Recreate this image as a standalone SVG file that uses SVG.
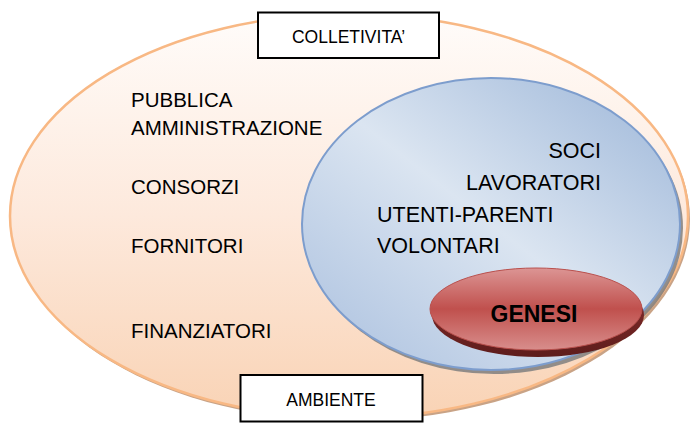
<svg xmlns="http://www.w3.org/2000/svg" width="696" height="425" viewBox="0 0 696 425">
<defs>
<linearGradient id="gOuter" x1="0" y1="0" x2="0" y2="1">
<stop offset="0" stop-color="#fffcfa"/>
<stop offset="0.5" stop-color="#fde9dc"/>
<stop offset="1" stop-color="#f9d3b5"/>
</linearGradient>
<linearGradient id="gBlue" x1="1" y1="0" x2="0" y2="1">
<stop offset="0" stop-color="#9bb5d8"/>
<stop offset="0.5" stop-color="#dbe5f1"/>
<stop offset="1" stop-color="#a9bfde"/>
</linearGradient>
<linearGradient id="gRed" x1="0" y1="0" x2="0" y2="1">
<stop offset="0" stop-color="#dc9594"/>
<stop offset="0.5" stop-color="#c0504d"/>
<stop offset="1" stop-color="#d88e8c"/>
</linearGradient>
<linearGradient id="gRim" x1="0" y1="0" x2="0" y2="1">
<stop offset="0" stop-color="#8c2f2d"/>
<stop offset="1" stop-color="#5e1d1c"/>
</linearGradient>
<style>
.lbl{font-family:"Liberation Sans",Arial,sans-serif;fill:#000}
.l{font-size:20.5px}
.r{font-size:21.5px}
.box{fill:#fff;stroke:#000;stroke-width:2}
.bt{font-size:17.5px}
</style>
</defs>
<g id="outer">
<ellipse cx="351" cy="219" rx="339" ry="202" fill="#c9a386"/>
<ellipse cx="349" cy="216" rx="339" ry="202" fill="url(#gOuter)" stroke="#f8b884" stroke-width="2.5"/>
<text class="lbl l" x="131" y="107">PUBBLICA</text>
<text class="lbl l" x="131" y="135">AMMINISTRAZIONE</text>
<text class="lbl l" x="131" y="194">CONSORZI</text>
<text class="lbl l" x="131" y="253">FORNITORI</text>
<text class="lbl l" x="131" y="338">FINANZIATORI</text>
</g>
<g id="inner">
<ellipse cx="494" cy="228" rx="189" ry="146" fill="#7f7f7f" opacity="0.85"/>
<ellipse cx="491" cy="224" rx="189" ry="146" fill="url(#gBlue)" stroke="#7d9dcd" stroke-width="2"/>
<text class="lbl r" x="601" y="158" text-anchor="end">SOCI</text>
<text class="lbl r" x="601" y="190" text-anchor="end">LAVORATORI</text>
<text class="lbl r" x="377" y="222">UTENTI-PARENTI</text>
<text class="lbl r" x="377" y="253">VOLONTARI</text>
</g>
<g id="genesi">
<ellipse cx="538" cy="315" rx="106" ry="42" fill="url(#gRim)"/>
<ellipse cx="536" cy="309" rx="106" ry="41" fill="url(#gRed)" stroke="#b9504d" stroke-width="1"/>
<text class="lbl" x="534" y="322" text-anchor="middle" font-size="23" font-weight="bold">GENESI</text>
</g>
<g id="colletivita">
<rect class="box" x="258" y="12.5" width="181" height="45.5"/>
<text class="lbl bt" x="348.5" y="43" text-anchor="middle">COLLETIVITA’</text>
</g>
<g id="ambiente">
<rect class="box" x="240.5" y="375" width="182" height="46.5"/>
<text class="lbl bt" x="331" y="406" text-anchor="middle">AMBIENTE</text>
</g>
<g id="connectors"></g>
</svg>
